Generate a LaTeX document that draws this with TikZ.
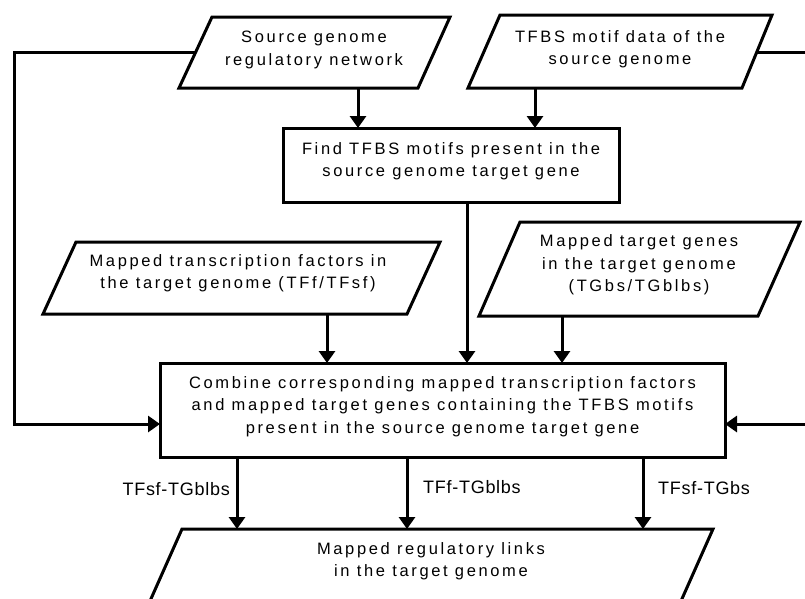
\documentclass[tikz,border=0pt]{standalone}
\usepackage{fontspec}
\setmainfont{Liberation Sans}
\newfontfamily\boxfont[LetterSpace=16]{Liberation Sans}
\newfontfamily\lblfont[LetterSpace=4]{Liberation Sans}
\usetikzlibrary{arrows.meta}
\begin{document}
\begin{tikzpicture}[x=1pt,y=-1pt,
  shapeline/.style={line width=3pt, line join=miter},
  boxrect/.style={draw, line width=3pt, inner sep=0pt, outer sep=0pt},
  conn/.style={line width=3pt, line join=miter, -{Triangle[width=16pt,length=12pt]}},
  txt/.style={align=center, inner sep=0pt, font=\boxfont\fontsize{16.5}{22.5}\selectfont},
  lbl/.style={inner sep=0pt, font=\lblfont\fontsize{18}{20}\selectfont}]
\useasboundingbox (0,0) rectangle (805,598);
\clip (0,0) rectangle (805,598);

% parallelogram 1
\coordinate (p1tl) at (212,17);
\coordinate (p1tr) at (450,17);
\coordinate (p1br) at (418,88);
\coordinate (p1bl) at (179,88);
\draw[shapeline] (p1tl) -- (p1tr) -- (p1br) -- (p1bl) -- cycle;
\node[txt] (p1) at (314,50) {Source genome\\regulatory network};

% parallelogram 2
\coordinate (p2tl) at (500,15);
\coordinate (p2tr) at (772,15);
\coordinate (p2br) at (742,88);
\coordinate (p2bl) at (468,88);
\draw[shapeline] (p2tl) -- (p2tr) -- (p2br) -- (p2bl) -- cycle;
\node[txt] (p2) at (620,49) {TFBS motif data of the\\source genome};

% find box
\node[boxrect, minimum width=336pt, minimum height=74pt] (find) at (451,165) {};
\node[txt] (findtxt) at (451,161) {Find TFBS motifs present in the\\source genome target gene};

% parallelogram 3
\coordinate (p3tl) at (76,242);
\coordinate (p3tr) at (440,242);
\coordinate (p3br) at (407,314);
\coordinate (p3bl) at (43,314);
\draw[shapeline] (p3tl) -- (p3tr) -- (p3br) -- (p3bl) -- cycle;
\node[txt] (p3) at (238,273) {Mapped transcription factors in\\the target genome (TFf/TFsf)};

% parallelogram 4
\coordinate (p4tl) at (520,222);
\coordinate (p4tr) at (800,222);
\coordinate (p4br) at (758,316);
\coordinate (p4bl) at (479,316);
\draw[shapeline] (p4tl) -- (p4tr) -- (p4br) -- (p4bl) -- cycle;
\node[txt] (p4) at (639,265) {Mapped target genes\\in the target genome\\(TGbs/TGblbs)};

% combine box
\node[boxrect, minimum width=565pt, minimum height=94pt] (comb) at (442.5,410) {};
\node[txt] (combtxt) at (442.5,406.5) {Combine corresponding mapped transcription factors\\and mapped target genes containing the TFBS motifs\\present in the source genome target gene};

% bottom parallelogram
\coordinate (p5tl) at (182,529);
\coordinate (p5tr) at (713,529);
\coordinate (p5br) at (681,601);
\coordinate (p5bl) at (150,601);
\draw[shapeline] (p5tl) -- (p5tr) -- (p5br) -- (p5bl) -- cycle;
\node[txt] (p5) at (431,561) {Mapped regulatory links\\in the target genome};

% connector start points
\coordinate (p1out) at (358,88);
\coordinate (p2out) at (535,88);
\coordinate (p3out) at (327,314);
\coordinate (p4out) at (562,316);
\coordinate (findout) at (467,202);
\coordinate (p1left) at (196,52);
\coordinate (lc1) at (14,52);
\coordinate (lc2) at (14,424);
\coordinate (p2right) at (757,52);
\coordinate (rc1) at (830,52);
\coordinate (rc2) at (830,424);
\coordinate (o1) at (237,457);
\coordinate (o2) at (407,457);
\coordinate (o3) at (643,457);

\draw[conn] (p1out) -- (p1out |- find.north);
\draw[conn] (p2out) -- (p2out |- find.north);
\draw[conn] (findout) -- (findout |- comb.north);
\draw[conn] (p3out) -- (p3out |- comb.north);
\draw[conn] (p4out) -- (p4out |- comb.north);
\draw[conn] (p1left) -- (lc1) -- (lc2) -- (lc2 -| comb.west);
\draw[conn] (p2right) -- (rc1) -- (rc2) -- (rc2 -| comb.east);
\draw[conn] (o1) -- (o1 |- p5tl);
\draw[conn] (o2) -- (o2 |- p5tl);
\draw[conn] (o3) -- (o3 |- p5tl);

% labels
\node[lbl, anchor=east] (l1) at (230,489) {TFsf-TGblbs};
\node[lbl, anchor=west] (l2) at (423,487) {TFf-TGblbs};
\node[lbl, anchor=west] (l3) at (658,488) {TFsf-TGbs};
\end{tikzpicture}
\end{document}
